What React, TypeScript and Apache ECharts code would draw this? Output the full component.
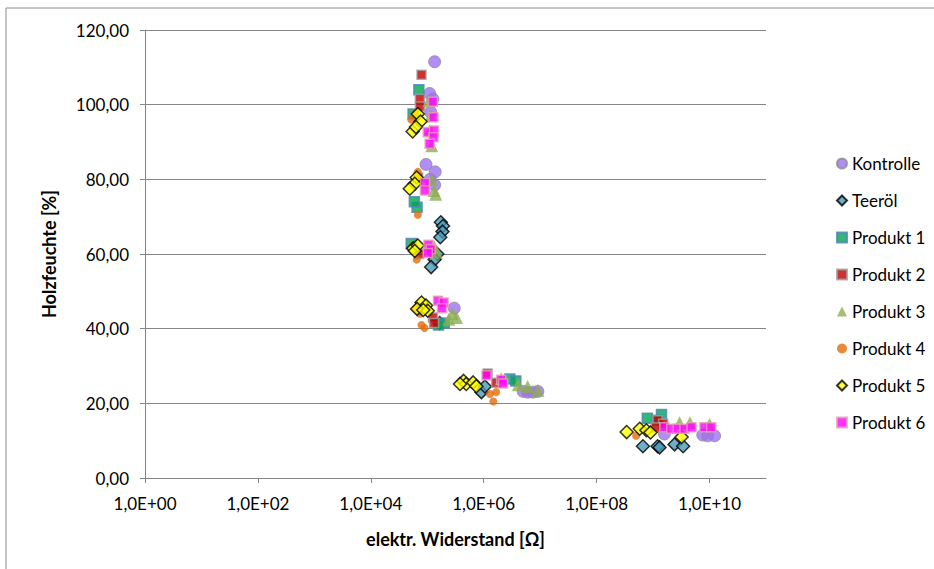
import React, { useEffect, useRef } from "react";
import * as echarts from "echarts";

const seriesNames = ["Kontrolle", "Teeröl", "Produkt 1", "Produkt 2", "Produkt 3", "Produkt 4", "Produkt 5", "Produkt 6"];

const kontrolle = [
  [1.35e5, 111.5], [1.1e5, 103], [1.26e5, 101.5], [1.15e5, 98],
  [9.5e4, 84], [1.38e5, 82], [1.35e5, 78.5], [1.12e5, 80],
  [1.2e5, 61], [3.0e5, 45.5],
  [5.0e6, 23.2], [6.0e6, 23.0], [7.4e6, 23.0], [9.1e6, 23.2],
  [1.58e9, 11.8], [7.6e9, 11.5], [9.3e9, 11.3], [1.23e10, 11.3],
];
const teeroel = [
  [1.74e5, 68.5], [1.9e5, 67.5], [1.86e5, 66], [1.7e5, 64.5], [1.51e5, 60], [1.35e5, 58.5], [1.17e5, 56.5],
  [1.66e5, 41.5], [9.1e5, 23], [1.05e6, 24.5],
  [6.6e8, 8.5], [1.2e9, 8.5], [1.3e9, 8.2], [2.4e9, 9], [3.4e9, 8.5],
];
const produkt1 = [
  [7.1e4, 104], [5.6e4, 97.5], [6.6e4, 72.5], [5.9e4, 74], [5.2e4, 62.8],
  [2.0e5, 41.5], [1.58e5, 41], [2.9e6, 26.5], [3.7e6, 26],
  [7.9e8, 16], [1.41e9, 17], [1.2e9, 15.5],
];
const produkt2 = [
  [7.9e4, 108], [7.4e4, 101.5], [7.4e4, 99.5], [6.9e4, 80.5], [7.2e4, 60],
  [1.26e5, 43], [1.32e5, 41.5], [1.17e6, 28], [1.66e6, 25.5],
  [1.2e9, 15.5], [1.51e9, 14.5], [1.12e9, 13.5],
];
const produkt3 = [
  [1.07e5, 101], [1.15e5, 97], [1.1e5, 93], [1.2e5, 89],
  [1.32e5, 77], [1.41e5, 76], [1.2e5, 80], [1.32e5, 62], [1.45e5, 60.5],
  [3.3e5, 43], [2.8e5, 44], [2.4e5, 42.5],
  [2.04e6, 26.5], [4.1e6, 25], [6.0e6, 24.5], [9.1e6, 23.5],
  [2.95e9, 14.8], [4.5e9, 14.8], [1.0e10, 14.3],
];
const produkt4 = [
  [5.2e4, 96], [6.0e4, 97.5], [6.8e4, 82], [6.5e4, 80.5], [6.8e4, 70.5],
  [5.6e4, 62.3], [6.5e4, 58.5], [7.4e4, 44], [7.9e4, 41], [8.9e4, 40.2], [6.3e4, 45.5],
  [6.5e5, 25], [1.29e6, 22.5], [1.66e6, 23], [1.48e6, 20.5], [5.0e8, 11.3],
];
const produkt5 = [
  [5.5e4, 92.8], [6.8e4, 97.5], [7.6e4, 95.5], [6.3e4, 94],
  [6.5e4, 80.5], [6.0e4, 78.8], [4.9e4, 77.5],
  [5.6e4, 61.5], [6.8e4, 62.3], [6.0e4, 60.8],
  [7.9e4, 47], [9.5e4, 46.2], [6.6e4, 45.3], [1.02e5, 44.8], [8.5e4, 45],
  [4.4e5, 26], [4.9e5, 25.2], [6.5e5, 25.6], [7.4e5, 24.6], [3.8e5, 25.2],
  [3.4e8, 12.3], [5.8e8, 13.2], [7.6e8, 12.8], [9e8, 12.2], [3.2e9, 11],
];
const produkt6 = [
  [1.26e5, 100.8], [1.29e5, 96.6], [1.02e5, 92.7], [1.32e5, 93.1], [1.29e5, 91.3], [1.1e5, 89.5],
  [9.1e4, 79], [9.1e4, 77], [1.05e5, 62.5], [1.15e5, 61.3], [1.02e5, 60.3],
  [1.55e5, 47.5], [1.95e5, 47], [1.82e5, 45.5],
  [1.12e6, 27.5], [2.04e6, 26.3], [2.2e6, 25.3],
  [1.58e9, 13.6], [2.1e9, 13.2], [2.75e9, 13.2], [3.6e9, 13.2], [4.8e9, 13.6], [8.1e9, 13.6], [1.07e10, 13.6],
];

const seriesData = [kontrolle, teeroel, produkt1, produkt2, produkt3, produkt4, produkt5, produkt6];

const styles = [
  { symbol: "circle", size: 12, itemStyle: { color: "#9d72f4", borderColor: "#8c8c8c", borderWidth: 1 } },
  { symbol: "diamond", size: 13, itemStyle: { color: "#4a9ab8", borderColor: "#000000", borderWidth: 1.5 } },
  { symbol: "rect", size: 10, itemStyle: { color: "#00a651", borderColor: "#4f81bd", borderWidth: 1.5 } },
  { symbol: "rect", size: 9, itemStyle: { color: "#c00000", borderColor: "#a0a0a0", borderWidth: 1.5 } },
  { symbol: "triangle", size: 13, itemStyle: { color: "#8fac55" } },
  { symbol: "circle", size: 8, itemStyle: { color: "#e46c0a" } },
  { symbol: "diamond", size: 13, itemStyle: { color: "#ffff00", borderColor: "#000000", borderWidth: 1.5 } },
  { symbol: "rect", size: 9, itemStyle: { color: "#ff00ff", borderColor: "#e6a0b4", borderWidth: 1.5 } },
];

const FONT = "Lato, 'Liberation Sans', sans-serif";

export default function App() {
  const ref = useRef<HTMLDivElement>(null);
  useEffect(() => {
    if (!ref.current) return;
    const chart = echarts.init(ref.current, undefined, { renderer: "svg" });
    chart.setOption({
      animation: false,
      backgroundColor: "#ffffff",
      textStyle: { fontFamily: FONT },
      graphic: [
        {
          type: "rect",
          shape: { x: 6, y: 8, width: 940, height: 580 },
          style: { fill: "none", stroke: "#8c8c8c", lineWidth: 1 },
          silent: true,
        },
      ],
      grid: { left: 145, right: 168, top: 30, bottom: 91 },
      legend: {
        orient: "vertical",
        left: 831,
        top: 150,
        itemWidth: 10,
        itemHeight: 10,
        itemGap: 20,
        data: seriesNames,
        textStyle: { fontFamily: FONT, fontSize: 17, color: "#000", lineHeight: 17 },
      },
      xAxis: {
        type: "log",
        logBase: 100,
        min: 1,
        max: 1e11,
        name: "elektr. Widerstand [Ω]",
        nameLocation: "middle",
        nameGap: 52,
        nameTextStyle: { fontFamily: FONT, fontSize: 18, fontWeight: "bold", color: "#000" },
        axisLine: { show: true, lineStyle: { color: "#868686" } },
        axisTick: { show: true, length: 5, lineStyle: { color: "#868686" } },
        minorTick: { show: false },
        splitLine: { show: false },
        axisLabel: {
          fontFamily: FONT,
          fontSize: 17,
          color: "#000",
          margin: 17,
          showMaxLabel: false,
          formatter: (v: number) => {
            const e = Math.round(Math.log10(v));
            return "1,0E+" + (e < 10 ? "0" + e : String(e));
          },
        },
      },
      yAxis: {
        type: "value",
        min: 0,
        max: 120,
        interval: 20,
        name: "Holzfeuchte [%]",
        nameLocation: "middle",
        nameGap: 87,
        nameTextStyle: { fontFamily: FONT, fontSize: 18, fontWeight: "bold", color: "#000" },
        axisLine: { show: true, lineStyle: { color: "#868686" } },
        axisTick: { show: true, length: 5, lineStyle: { color: "#868686" } },
        splitLine: { show: true, lineStyle: { color: "#868686", width: 1 } },
        axisLabel: {
          fontFamily: FONT,
          fontSize: 17,
          color: "#000",
          margin: 16,
          formatter: (v: number) => v.toFixed(2).replace(".", ","),
        },
      },
      series: seriesNames.map((name, i) => ({
        name,
        type: "scatter",
        data: seriesData[i],
        symbol: styles[i].symbol,
        symbolSize: styles[i].size,
        itemStyle: styles[i].itemStyle,
        emphasis: { disabled: true },
      })),
    });
    return () => chart.dispose();
  }, []);
  return (
    <div
      ref={ref}
      style={{ position: "fixed", left: 0, top: 0, width: 934, height: 569, background: "#fff" }}
    />
  );
}
